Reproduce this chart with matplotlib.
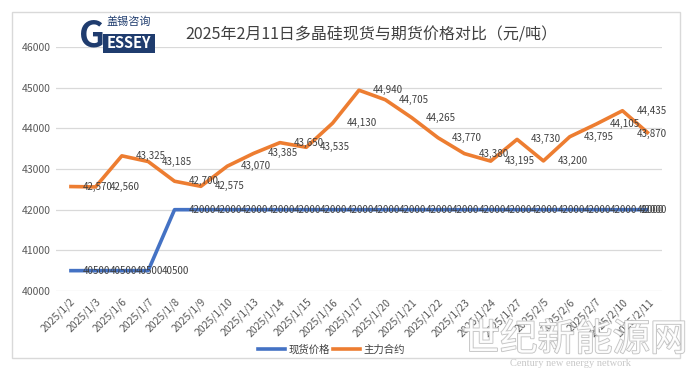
import matplotlib
matplotlib.use('Agg')
import matplotlib.pyplot as plt
import matplotlib.patheffects as pe
from matplotlib.patches import Rectangle
from matplotlib.lines import Line2D

plt.rcParams['font.family'] = ['Noto Sans CJK SC', 'DejaVu Sans']

# === Данные ===
dates = ['2025/1/2', '2025/1/3', '2025/1/6', '2025/1/7', '2025/1/8', '2025/1/9', '2025/1/10',
         '2025/1/13', '2025/1/14', '2025/1/15', '2025/1/16', '2025/1/17', '2025/1/20', '2025/1/21',
         '2025/1/22', '2025/1/23', '2025/1/24', '2025/1/27', '2025/2/5', '2025/2/6', '2025/2/7',
         '2025/2/10', '2025/2/11']
spot = [40500, 40500, 40500, 40500, 42000, 42000, 42000, 42000, 42000, 42000, 42000, 42000,
        42000, 42000, 42000, 42000, 42000, 42000, 42000, 42000, 42000, 42000, 42000]
futures = [42570, 42560, 43325, 43185, 42700, 42575, 43070, 43385, 43650, 43535, 44130, 44940,
           44705, 44265, 43770, 43380, 43195, 43730, 43200, 43795, 44105, 44435, 43870]
yticks = [40000, 41000, 42000, 43000, 44000, 45000, 46000]

BLUE = '#4472C4'
ORANGE = '#ED7D31'
TXT = '#404040'

fig = plt.figure(figsize=(6.91, 3.74), dpi=100)
ax = fig.add_axes([0.081, 0.222, 0.877, 0.652])

x = list(range(len(dates)))
ax.plot(x, spot, color=BLUE, linewidth=2.6, solid_capstyle='butt', zorder=3)
ax.plot(x, futures, color=ORANGE, linewidth=2.6, solid_capstyle='butt', zorder=3)


def put_labels(vals, fmt):
    # подписи справа от точек, последнюю сдвигаем внутрь графика
    last = len(vals) - 1
    for i, v in enumerate(vals):
        if i == last:
            ax.annotate(fmt.format(v), (i, v), xytext=(13, 0), textcoords='offset points',
                        ha='right', va='center', fontsize=7, color=TXT, zorder=4)
        else:
            ax.annotate(fmt.format(v), (i, v), xytext=(10, 0), textcoords='offset points',
                        ha='left', va='center', fontsize=7, color=TXT, zorder=4)


put_labels(spot, '{}')
put_labels(futures, '{:,}')

ax.set_xlim(-0.5, len(dates) - 0.5)
ax.set_ylim(40000, 46000)
ax.set_yticks(yticks)
ax.set_yticklabels([str(t) for t in yticks], fontsize=7.5, color='#595959')
ax.set_xticks(x)
ax.set_xticklabels(dates, rotation=45, ha='right', rotation_mode='anchor',
                   fontsize=7.5, color='#595959')
ax.tick_params(axis='both', length=0, pad=4)
ax.grid(axis='y', color='#D9D9D9', linewidth=0.9)
ax.set_axisbelow(True)
for s in ax.spines.values():
    s.set_visible(False)

# Заголовок
fig.text(0.537, 0.906, '2025年2月11日多晶硅现货与期货价格对比（元/吨）', ha='center', va='center',
         fontsize=11.5, color=TXT)

# Логотип
navy = '#1F3C6E'
fig.patches.append(Rectangle((103 / 691, 1 - 53 / 374), 52 / 691, 19 / 374,
                             transform=fig.transFigure, facecolor=navy, edgecolor='none'))
fig.text(92 / 691, 1 - 36 / 374, 'G', ha='center', va='center', fontsize=26,
         fontweight='bold', color=navy)
fig.text(129 / 691, 1 - 43.5 / 374, 'ESSEY', ha='center', va='center', fontsize=10.5,
         fontweight='bold', color='white')
fig.text(129 / 691, 1 - 22 / 374, '盖锡咨询', ha='center', va='center', fontsize=8, color=navy)

# Легенда
handles = [Line2D([], [], color=BLUE, linewidth=2.6), Line2D([], [], color=ORANGE, linewidth=2.6)]
fig.legend(handles, ['现货价格', '主力合约'], loc='center', bbox_to_anchor=(0.48, 0.065),
           ncol=2, frameon=False, fontsize=7.5, handlelength=2.6, columnspacing=0.3,
           handletextpad=0.3, labelcolor=TXT)

# Рамка
fig.patches.append(Rectangle((12 / 691, 1 - 358 / 374), 668 / 691, 346 / 374,
                             transform=fig.transFigure, facecolor='none',
                             edgecolor='#D9D9D9', linewidth=1))

# Водяной знак
fig.text(575 / 691, 1 - 340 / 374, '世纪新能源网', ha='center', va='center', fontsize=27,
         color='white', alpha=0.9,
         path_effects=[pe.withStroke(linewidth=1.2, foreground='#BBBBBB')])
fig.text(571 / 691, 1 - 364 / 374, 'Century new energy network', ha='center', va='center',
         fontsize=7.5, family='Liberation Serif', color='#C8C8C8')

fig.savefig('out.png', dpi=100)
